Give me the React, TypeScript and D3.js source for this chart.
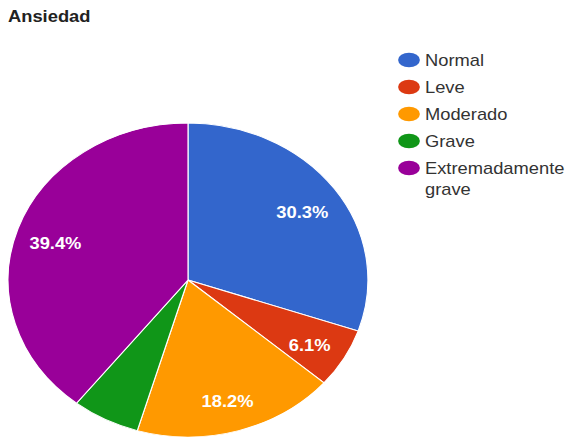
import React from "react";
import * as d3 from "d3";

const title = "Ansiedad";
const categories = ["Normal", "Leve", "Moderado", "Grave", "Extremadamente grave"];
const values = [30.3, 6.1, 18.2, 6.1, 39.4];
const sliceLabels = ["30.3%", "6.1%", "18.2%", "", "39.4%"];
const colors = ["#3366cc", "#dc3912", "#ff9900", "#109618", "#990099"];

const W = 569;
const H = 439;
const SX = 1.146; // horizontal stretch of the whole picture

export default function App() {
  const cx = 188 / SX;
  const cy = 280;
  const r = 157;
  const pie = d3.pie<number>().sort(null).value((d) => d)(values);
  const arc = d3.arc<d3.PieArcDatum<number>>().innerRadius(0).outerRadius(r);
  const labelArc = d3
    .arc<d3.PieArcDatum<number>>()
    .innerRadius(r * 0.78)
    .outerRadius(r * 0.78);

  const legendY = d3
    .scalePoint<string>()
    .domain(categories)
    .range([60, 60 + 27 * (categories.length - 1)]);
  const legendMarkerX = 409 / SX;
  const legendTextX = 425 / SX;
  const font = "Arial, 'Liberation Sans', sans-serif";

  return (
    <svg
      width={W}
      height={H}
      style={{ position: "absolute", left: 0, top: 0, background: "#fff" }}
    >
      <g transform={`scale(${SX},1)`}>
        <text
          x={7}
          y={22}
          fontFamily={font}
          fontSize={16}
          fontWeight="bold"
          fill="#222"
        >
          {title}
        </text>
        <g transform={`translate(${cx},${cy})`}>
          {pie.map((p, i) => (
            <path
              key={i}
              d={arc(p) || ""}
              fill={colors[i]}
              stroke="#fff"
              strokeWidth={1}
            />
          ))}
          {pie.map((p, i) => {
            const [lx, ly] = labelArc.centroid(p);
            return sliceLabels[i] ? (
              <text
                key={i}
                x={lx}
                y={ly}
                dy="0.6em"
                textAnchor="middle"
                fontFamily={font}
                fontSize={16}
                fontWeight="bold"
                fill="#fff"
              >
                {sliceLabels[i]}
              </text>
            ) : null;
          })}
        </g>
        {categories.map((c, i) => {
          const y = legendY(c) as number;
          const words = c.length > 14 ? c.split(" ") : [c];
          return (
            <g key={c}>
              <ellipse
                cx={legendMarkerX}
                cy={y}
                rx={9.5}
                ry={7.3}
                fill={colors[i]}
              />
              <text x={legendTextX} y={y} fontFamily={font} fontSize={16} fill="#333">
                {words.map((w, k) => (
                  <tspan key={k} x={legendTextX} dy={k === 0 ? "0.36em" : 21}>
                    {w}
                  </tspan>
                ))}
              </text>
            </g>
          );
        })}
      </g>
    </svg>
  );
}
